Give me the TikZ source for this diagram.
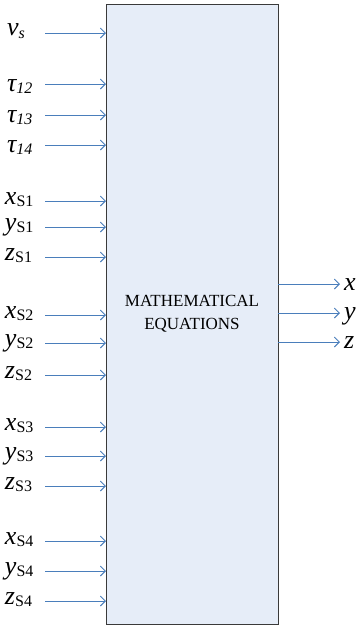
\documentclass[tikz,border=0pt]{standalone}
\usepackage{fontspec}
\setmainfont{Liberation Serif}
\usetikzlibrary{arrows.meta}
\definecolor{arrowblue}{HTML}{4A7EBB}
\definecolor{boxfill}{HTML}{E6EDF8}
\definecolor{boxdraw}{HTML}{3A3A3A}
\newcommand{\mainf}{\fontsize{26}{26}\selectfont\itshape}
\newcommand{\subf}{\fontsize{16}{16}\selectfont}
\newcommand{\labS}[2]{{\mainf #1}{\subf\raisebox{-2pt}{S#2}}}
\newcommand{\labT}[1]{{\mainf τ}{\subf\itshape\raisebox{-2pt}{#1}}}
\begin{document}
\begin{tikzpicture}[x=1pt,y=-1pt,
  inarrow/.style={draw=arrowblue,line width=0.9pt,-{Straight Barb[length=5pt,width=10pt,line width=0.9pt]}},
  lab/.style={anchor=base west,inner sep=0pt,outer sep=0pt},
  rlab/.style={anchor=base west,inner sep=0pt,outer sep=0pt,font=\mainf},
  eqbox/.style={draw=boxdraw,fill=boxfill,line width=1pt,minimum width=172pt,minimum height=620pt,inner sep=0pt,
    align=center,font=\fontsize{17}{23}\selectfont}]
\useasboundingbox (0,0) rectangle (360,630);
\node[eqbox] (box) at (192,314) {MATHEMATICAL\\EQUATIONS};
% input start coordinates
\foreach \n/\y in {vs/33,t12/84,t13/115,t14/145,x1/201,y1/227,z1/257,x2/315,y2/343,z2/375,x3/427,y3/456,z3/486,x4/541,y4/571,z4/601}{
  \coordinate (s\n) at (45,\y);
  \coordinate (e\n) at (106,\y);
}
\foreach \n in {vs,t12,t13,t14,x1,y1,z1,x2,y2,z2,x3,y3,z3,x4,y4,z4}{
  \draw[inarrow] (s\n) -- (e\n);
}
% labels
\node[lab] (lvs) at (7,35) {{\mainf v}{\subf\itshape\raisebox{-3pt}{s}}};
\node[lab] (lt12) at (7,91) {\labT{12}};
\node[lab] (lt13) at (7,122) {\labT{13}};
\node[lab] (lt14) at (7,152) {\labT{14}};
\foreach \i/\yx/\yy/\yz in {1/204/230/260,2/318/346/378,3/430/459/489,4/544/574/604}{
  \node[lab] (lx\i) at (5,\yx) {\labS{x}{\i}};
  \node[lab] (ly\i) at (5,\yy) {\labS{y}{\i}};
  \node[lab] (lz\i) at (5,\yz) {\labS{z}{\i}};
}
% outputs
\coordinate (ox) at (278,284);
\coordinate (oy) at (278,313);
\coordinate (oz) at (278,342);
\node[rlab] (lx) at (344,290) {x};
\node[rlab] (ly) at (344,319) {y};
\node[rlab] (lz) at (344,348) {z};
\draw[inarrow] (ox) -- (340,284);
\draw[inarrow] (oy) -- (340,313);
\draw[inarrow] (oz) -- (340,342);
\end{tikzpicture}
\end{document}
